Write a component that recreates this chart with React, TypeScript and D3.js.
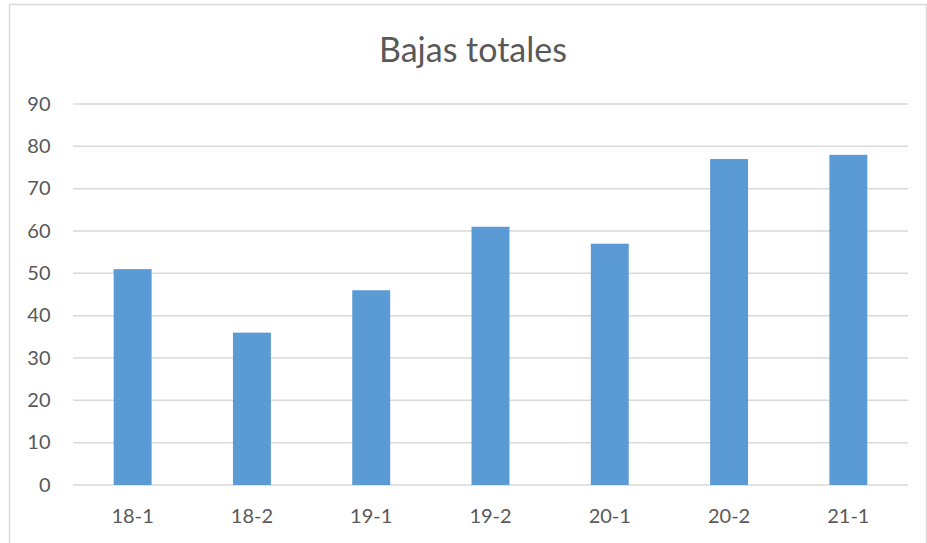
import React from 'react';
import * as d3 from 'd3';

const categories = ['18-1', '18-2', '19-1', '19-2', '20-1', '20-2', '21-1'];
const values = [51, 36, 46, 61, 57, 77, 78];
const yTicks = [0, 10, 20, 30, 40, 50, 60, 70, 80, 90];
const title = 'Bajas totales';

export default function App() {
    const width = 927;
    const height = 543;
    const margin = { top: 104, right: 19, bottom: 58, left: 73 };
    const innerWidth = width - margin.left - margin.right;
    const innerHeight = height - margin.top - margin.bottom;

    const x = d3.scaleBand<string>()
        .domain(categories)
        .range([0, innerWidth])
        .padding(0);

    const y = d3.scaleLinear()
        .domain([0, 90])
        .range([innerHeight, 0]);

    const barWidth = x.bandwidth() * 0.318;
    const font = 'Lato, "Open Sans", sans-serif';
    const textColor = '#595959';

    return (
        <svg width={width} height={height} style={{ position: 'absolute', left: 0, top: 0, background: '#fff' }}>
            {/* chart frame */}
            <rect x={9.5} y={4.5} width={917} height={560} fill="#fff" stroke="#d9d9d9" strokeWidth={1.5} />

            <text x={473} y={62.3} textAnchor="middle"
                fontFamily={font} fontSize={34} fill={textColor}>{title}</text>

            <g transform={`translate(${margin.left},${margin.top})`}>
                {yTicks.map(t => (
                    <g key={t}>
                        <line x1={0} x2={innerWidth} y1={y(t)} y2={y(t)} stroke="#d9d9d9" strokeWidth={1.5} />
                        <text x={-22.5} y={y(t) + 6.8} textAnchor="end"
                            fontFamily={font} fontSize={20} fill={textColor}>{t}</text>
                    </g>
                ))}

                {categories.map((c, i) => {
                    const cx = (x(c) || 0) + x.bandwidth() / 2;
                    return (
                        <g key={c}>
                            <rect x={cx - barWidth / 2} y={y(values[i])} width={barWidth}
                                height={innerHeight - y(values[i])} fill="#5b9bd5" />
                            <text x={cx} y={innerHeight + 38.3} textAnchor="middle"
                                fontFamily={font} fontSize={20} fill={textColor}>{c}</text>
                        </g>
                    );
                })}
            </g>
        </svg>
    );
}
